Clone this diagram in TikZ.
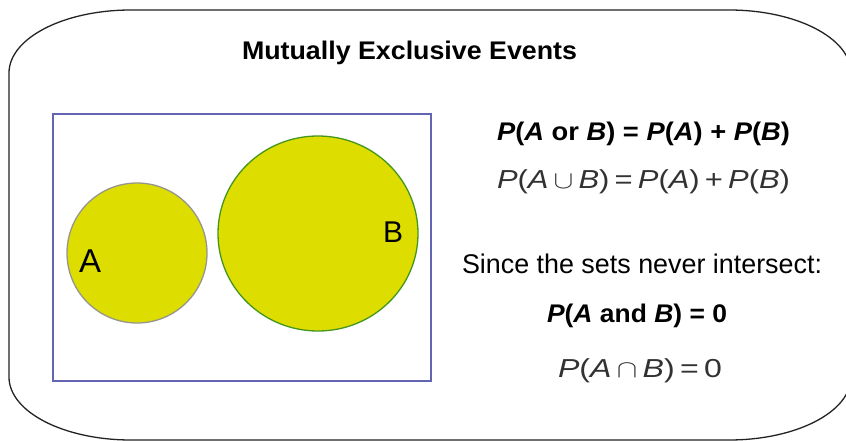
\documentclass[tikz,border=0pt]{standalone}
\usepackage{fontspec}
\setmainfont{Liberation Sans}
\usepackage{graphicx}
\usetikzlibrary{shapes.geometric}
\definecolor{vennfill}{RGB}{221,221,0}
\definecolor{boxblue}{RGB}{100,100,180}
\definecolor{agray}{RGB}{150,150,140}
\definecolor{bgreen}{RGB}{70,150,30}
\definecolor{mathgray}{RGB}{50,50,50}
\definecolor{outline}{RGB}{35,35,35}
\newcommand{\fitw}[2]{\resizebox{#1}{\height}{#2}}
\tikzset{
  txt/.style={anchor=base west, inner sep=0pt, outer sep=0pt},
  outerframe/.style={draw=outline, line width=1.3pt},
  universe/.style={draw=boxblue, line width=1.3pt, rectangle, inner sep=0pt},
  vennset/.style={fill=vennfill, line width=1.3pt, inner sep=0pt}
}
\begin{document}
\begin{tikzpicture}[x=1pt,y=-1pt]
\useasboundingbox (0,0) rectangle (846,441);
\clip (0,0) rectangle (846,441);
\fill[white] (0,0) rectangle (846,441);
% outer rounded frame
\draw[outerframe] (9,377) -- (9,73)
  arc[start angle=180, end angle=270, x radius=122, y radius=63]
  -- (729,10)
  arc[start angle=270, end angle=360, x radius=122, y radius=63]
  -- (851,377)
  arc[start angle=0, end angle=90, x radius=122, y radius=63]
  -- (131,440)
  arc[start angle=90, end angle=180, x radius=122, y radius=63]
  -- cycle;
% title
\node[txt, font=\fontsize{25.5}{30}\selectfont\bfseries] (title) at (242,60)
  {\fitw{335pt}{Mutually Exclusive Events}};
% universe box and sets
\node[universe, minimum width=378pt, minimum height=267pt] (univ) at (242,247.5) {};
\node[vennset, circle, draw=agray, minimum size=140pt] (setA) at (137,253) {};
\node[vennset, ellipse, draw=bgreen, minimum width=200pt, minimum height=195pt] (setB) at (318,233.5) {};
\node[txt, font=\fontsize{33}{38}\selectfont] (labA) at (79,272) {A};
\node[txt, font=\fontsize{30}{36}\selectfont] (labB) at (383,242) {B};
% formulas
\node[txt, font=\fontsize{25.5}{30}\selectfont\bfseries] (f1) at (497,140)
  {\fitw{293pt}{\textit{P}(\textit{A} or \textit{B}) = \textit{P}(\textit{A}) + \textit{P}(\textit{B})}};
\node[txt, text=mathgray, font=\fontsize{26}{30}\selectfont] (f2) at (497,189)
  {\fitw{293pt}{\textit{P}(\textit{A}\,$\cup$\,\textit{B})\,=\,\textit{P}(\textit{A})\,+\,\textit{P}(\textit{B})}};
\node[txt, font=\fontsize{27}{32}\selectfont] (since) at (462,273)
  {\fitw{360pt}{Since the sets never intersect:}};
\node[txt, font=\fontsize{25.5}{30}\selectfont\bfseries] (f3) at (547,322)
  {\fitw{180pt}{\textit{P}(\textit{A} and \textit{B}) = 0}};
\node[txt, text=mathgray, font=\fontsize{26}{30}\selectfont] (f4) at (558,377)
  {\fitw{164pt}{\textit{P}(\textit{A}\,$\cap$\,\textit{B})\,=\,0}};
\end{tikzpicture}
\end{document}
